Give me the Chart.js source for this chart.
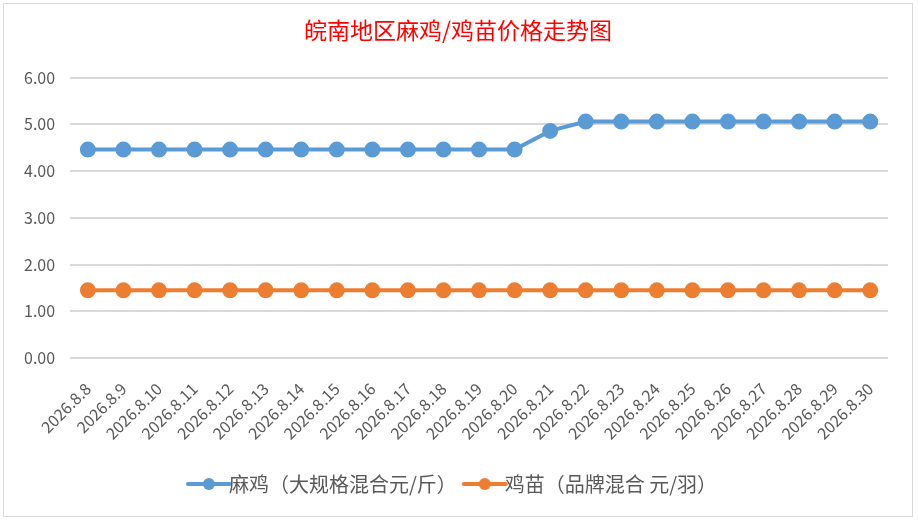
<!DOCTYPE html>
<html>
<head>
<meta charset="utf-8">
<script src="https://cdn.jsdelivr.net/npm/chart.js@4"></script>
<style>
  html, body { margin: 0; padding: 0; background: #fff; }
  #wrap { position: absolute; left: 3px; top: 3px; width: 908px; height: 512px;
          border: 1px solid #d9d9d9; background: #fff; }
</style>
</head>
<body>
<div id="wrap"><canvas id="chartPrix"></canvas></div>
<script>
// 数据
const dates = ['2026.8.8','2026.8.9','2026.8.10','2026.8.11','2026.8.12','2026.8.13','2026.8.14',
  '2026.8.15','2026.8.16','2026.8.17','2026.8.18','2026.8.19','2026.8.20','2026.8.21','2026.8.22',
  '2026.8.23','2026.8.24','2026.8.25','2026.8.26','2026.8.27','2026.8.28','2026.8.29','2026.8.30'];
const maji = [4.46,4.46,4.46,4.46,4.46,4.46,4.46,4.46,4.46,4.46,4.46,4.46,4.46,4.86,5.06,
  5.06,5.06,5.06,5.06,5.06,5.06,5.06,5.06];
const jimiao = [1.45,1.45,1.45,1.45,1.45,1.45,1.45,1.45,1.45,1.45,1.45,1.45,1.45,1.45,1.45,
  1.45,1.45,1.45,1.45,1.45,1.45,1.45,1.45];

const FONT = "'Noto Sans CJK SC', 'Noto Sans', sans-serif";

// legend marker: line + dot, like Excel
function marker(color) {
    const c = document.createElement('canvas');
    c.width = 48; c.height = 14;
    const g = c.getContext('2d');
    g.strokeStyle = color; g.lineWidth = 4; g.lineCap = 'round';
    g.beginPath(); g.moveTo(3, 7); g.lineTo(45, 7); g.stroke();
    g.fillStyle = color;
    g.beginPath(); g.arc(24, 7, 6, 0, Math.PI * 2); g.fill();
    return c;
}
const markers = [marker('#5b9bd5'), marker('#ed7d31')];

new Chart(document.getElementById('chartPrix'), {
    type: 'line',
    data: {
        labels: dates,
        datasets: [
            { label: '麻鸡（大规格混合元/斤）', data: maji, borderColor: '#5b9bd5', backgroundColor: '#5b9bd5',
              borderWidth: 4, pointRadius: 6, pointHoverRadius: 6, tension: 0 },
            { label: '鸡苗（品牌混合 元/羽）', data: jimiao, borderColor: '#ed7d31', backgroundColor: '#ed7d31',
              borderWidth: 4, pointRadius: 6, pointHoverRadius: 6, tension: 0 }
        ]
    },
    options: {
        responsive: true, maintainAspectRatio: false, animation: false,
        layout: { padding: { left: 5, right: 5, top: 0, bottom: 12 } },
        plugins: {
            title: { display: true, text: '皖南地区麻鸡/鸡苗价格走势图', color: '#ff0000',
                     font: { family: FONT, size: 23, weight: 'normal' }, padding: { top: 12, bottom: 34 } },
            legend: { position: 'bottom',
                      labels: { usePointStyle: true, color: '#595959', padding: 18,
                                font: { family: FONT, size: 20 },
                                generateLabels: chart => {
                                    const items = Chart.defaults.plugins.legend.labels.generateLabels(chart);
                                    items.forEach((it, i) => { it.pointStyle = markers[i]; });
                                    return items;
                                } } },
            tooltip: { enabled: false }
        },
        scales: {
            x: { offset: true, grid: { display: false }, border: { display: false },
                 ticks: { color: '#595959', minRotation: 45, maxRotation: 45, autoSkip: false, padding: 13,
                          font: { family: FONT, size: 16 } } },
            y: { min: 0, max: 6, grid: { color: '#d9d9d9', lineWidth: 2, drawTicks: false }, border: { display: false },
                 ticks: { stepSize: 1, color: '#595959', padding: 15, font: { family: FONT, size: 16 },
                          callback: v => v.toFixed(2) } },
            // empty right margin, keeps the title centred on the whole frame
            yPad: { position: 'right', grid: { display: false }, border: { display: false },
                    ticks: { display: false }, afterFit: s => { s.width = 19; } }
        }
    }
});
</script>
</body>
</html>
